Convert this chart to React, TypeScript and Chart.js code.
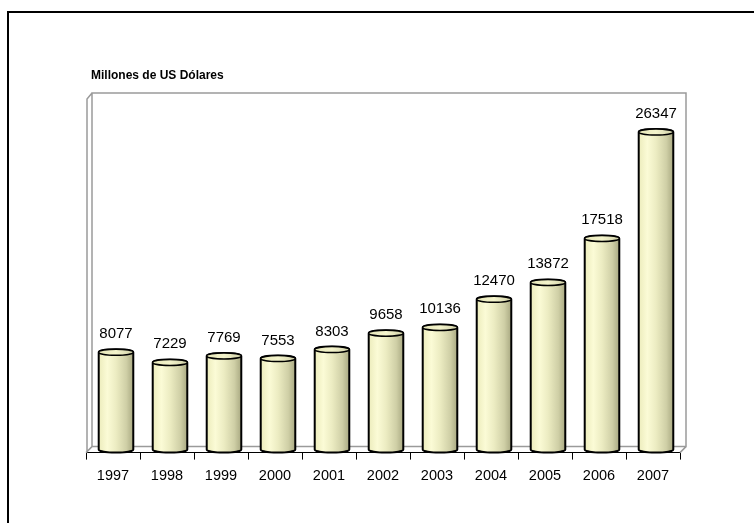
import React, { useEffect, useRef } from "react";
import { Chart, registerables } from "chart.js";

Chart.register(...registerables);

const years = ["1997", "1998", "1999", "2000", "2001", "2002", "2003", "2004", "2005", "2006", "2007"];
const values = [8077, 7229, 7769, 7553, 8303, 9658, 10136, 12470, 13872, 17518, 26347];
const titleText = "Millones de US Dólares";
const yMax = 30000;

const DEPTH = 6;
const SHIFT_X = 3;
const SHIFT_Y = 3;
const RY = 3;
const FONT = "'Liberation Sans', Arial, sans-serif";

const wallPlugin = {
  id: "wall3d",
  beforeDatasetsDraw(chart: any) {
    const { ctx, chartArea } = chart;
    const { left, right, top, bottom } = chartArea;
    ctx.save();
    ctx.strokeStyle = "#9a9a9a";
    ctx.lineWidth = 1.5;
    ctx.beginPath();
    ctx.moveTo(left + DEPTH, bottom - DEPTH);
    ctx.lineTo(left + DEPTH, top + 2);
    ctx.lineTo(right + DEPTH, top + 2);
    ctx.lineTo(right + DEPTH, bottom - DEPTH);
    ctx.lineTo(left + DEPTH, bottom - DEPTH);
    ctx.moveTo(left + 1, bottom);
    ctx.lineTo(left + 1, top + 2 + DEPTH);
    ctx.lineTo(left + DEPTH, top + 2);
    ctx.moveTo(left, bottom);
    ctx.lineTo(left + DEPTH, bottom - DEPTH);
    ctx.moveTo(right, bottom);
    ctx.lineTo(right + DEPTH, bottom - DEPTH);
    ctx.stroke();
    ctx.fillStyle = "#000";
    ctx.font = `bold 12px ${FONT}`;
    ctx.textAlign = "left";
    ctx.textBaseline = "middle";
    ctx.fillText(titleText, left + 5, 76);
    ctx.restore();
  },
};

const cylinderPlugin = {
  id: "cylinders",
  afterDatasetsDraw(chart: any) {
    const { ctx } = chart;
    const meta = chart.getDatasetMeta(0);
    ctx.save();
    meta.data.forEach((bar: any, i: number) => {
      const w = bar.width;
      const cx = bar.x + SHIFT_X;
      const topY = bar.y - SHIFT_Y;
      const baseY = bar.base - SHIFT_Y;
      const l = cx - w / 2;
      const r = cx + w / 2;
      const g = ctx.createLinearGradient(l, 0, r, 0);
      g.addColorStop(0, "#ececbc");
      g.addColorStop(0.25, "#fbfbd6");
      g.addColorStop(0.5, "#ececc2");
      g.addColorStop(0.8, "#cfcfa6");
      g.addColorStop(1, "#a9a982");
      ctx.beginPath();
      ctx.moveTo(l, topY);
      ctx.lineTo(l, baseY);
      ctx.ellipse(cx, baseY, w / 2, RY, 0, Math.PI, 0, true);
      ctx.lineTo(r, topY);
      ctx.ellipse(cx, topY, w / 2, RY, 0, 0, Math.PI, true);
      ctx.closePath();
      ctx.fillStyle = g;
      ctx.fill();
      ctx.lineWidth = 2;
      ctx.strokeStyle = "#000";
      ctx.stroke();
      const g2 = ctx.createLinearGradient(l, 0, r, 0);
      g2.addColorStop(0, "#e6e6b8");
      g2.addColorStop(0.5, "#f4f4cc");
      g2.addColorStop(1, "#d0d0a8");
      ctx.beginPath();
      ctx.ellipse(cx, topY, w / 2, RY, 0, 0, Math.PI * 2);
      ctx.fillStyle = g2;
      ctx.fill();
      ctx.lineWidth = 1.5;
      ctx.stroke();
      ctx.fillStyle = "#000";
      ctx.font = `15px ${FONT}`;
      ctx.textAlign = "center";
      ctx.textBaseline = "alphabetic";
      ctx.fillText(String(values[i]), cx, topY - RY - 11);
    });
    ctx.restore();
  },
};

export default function App() {
  const ref = useRef<HTMLCanvasElement>(null);
  useEffect(() => {
    if (!ref.current) return;
    const chart = new Chart(ref.current, {
      type: "bar",
      data: {
        labels: years,
        datasets: [
          {
            data: values,
            backgroundColor: "rgba(0,0,0,0)",
            borderWidth: 0,
            categoryPercentage: 1,
            barPercentage: 0.64,
          },
        ],
      },
      options: {
        animation: false,
        responsive: false,
        maintainAspectRatio: false,
        layout: { padding: { left: 86, right: 74, top: 91, bottom: 30 } },
        plugins: {
          legend: { display: false },
          tooltip: { enabled: false },
          title: { display: false },
        },
        scales: {
          x: {
            offset: true,
            grid: {
              display: true,
              offset: true,
              drawOnChartArea: false,
              drawTicks: true,
              tickLength: 7,
              color: "#000",
              lineWidth: 1,
            },
            border: { display: true, color: "#000", width: 1 },
            ticks: {
              color: "#000",
              padding: 8,
              font: { family: FONT, size: 14.5 },
            },
          },
          y: {
            display: false,
            min: 0,
            max: yMax,
          },
        },
      },
      plugins: [wallPlugin, cylinderPlugin],
    });
    return () => chart.destroy();
  }, []);
  return (
    <div style={{ position: "fixed", left: 0, top: 0, width: 754, height: 523, background: "#fff", overflow: "hidden" }}>
      <div
        style={{
          position: "absolute",
          left: 7,
          top: 11,
          width: 800,
          height: 600,
          borderTop: "2px solid #000",
          borderLeft: "2px solid #000",
        }}
      />
      <canvas ref={ref} width={754} height={523} style={{ position: "absolute", left: 0, top: 0 }} />
    </div>
  );
}
